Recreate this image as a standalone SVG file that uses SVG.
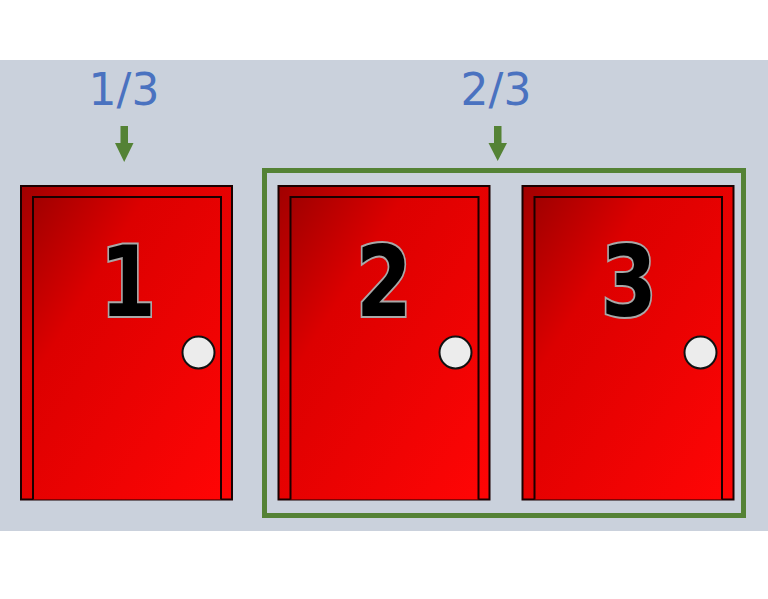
<svg xmlns="http://www.w3.org/2000/svg" width="768" height="599" viewBox="0 0 768 599">
  <defs>
    <linearGradient id="red" x1="0" y1="0" x2="1" y2="1">
      <stop offset="0" stop-color="#a00000"/>
      <stop offset="0.3" stop-color="#dc0000"/>
      <stop offset="1" stop-color="#ff0505"/>
    </linearGradient>
  </defs>
  <style>
    .frame { fill: url(#red); stroke: #1a0000; stroke-width: 2; }
    .panel { fill: url(#red); stroke: #1a0000; stroke-width: 2; }
    .knob { fill: #ececec; stroke: #111; stroke-width: 2; }
    .num { font-family: "DejaVu Sans", Verdana, sans-serif; font-weight: bold; font-size: 98px; fill: #000; stroke: #a8a8a8; stroke-width: 4; paint-order: stroke; text-anchor: middle; }
    .lbl { font-family: "DejaVu Sans", "Liberation Sans", sans-serif; font-size: 44px; fill: #4a72c0; text-anchor: middle; }
    .arrow { fill: #548235; }
  </style>
  <rect x="0" y="0" width="768" height="599" fill="#ffffff"/>
  <rect x="0" y="60" width="768" height="471" fill="#cad1dc"/>

  <g id="label-1-3">
    <text class="lbl" x="124" y="105">1/3</text>
  </g>
  <g id="label-2-3">
    <text class="lbl" x="496" y="105">2/3</text>
  </g>

  <g id="connectors">
    <polygon class="arrow" points="120.5,126 128,126 128,143 133.5,143 124.2,162 115,143 120.5,143"/>
    <polygon class="arrow" points="494,126 501.5,126 501.5,143 507,143 497.7,161 488.5,143 494,143"/>
  </g>

  <g id="group-2-3">
    <rect x="264.5" y="170.5" width="479" height="345" fill="none" stroke="#548235" stroke-width="5"/>
  </g>

  <g id="door-1">
    <rect class="frame" x="21" y="186" width="211" height="313.5"/>
    <path class="panel" d="M33,499.5 V197 H221 V499.5"/>
    <text class="num" transform="translate(128,316) scale(0.82,1)">1</text>
    <circle class="knob" cx="198.5" cy="352.5" r="16"/>
  </g>

  <g id="door-2">
    <rect class="frame" x="278.5" y="186" width="211" height="313.5"/>
    <path class="panel" d="M290.5,499.5 V197 H478.5 V499.5"/>
    <text class="num" transform="translate(384,316) scale(0.82,1)">2</text>
    <circle class="knob" cx="455.5" cy="352.5" r="16"/>
  </g>

  <g id="door-3">
    <rect class="frame" x="522.5" y="186" width="211" height="313.5"/>
    <path class="panel" d="M534.5,499.5 V197 H722 V499.5"/>
    <text class="num" transform="translate(629,316) scale(0.82,1)">3</text>
    <circle class="knob" cx="700.5" cy="352.5" r="16"/>
  </g>
</svg>
